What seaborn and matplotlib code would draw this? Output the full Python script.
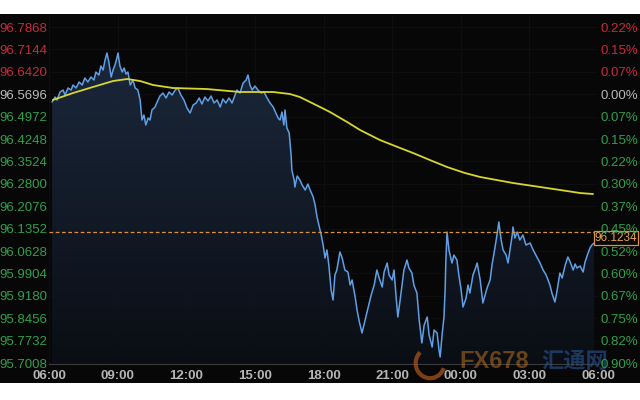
import numpy as np
import pandas as pd
import seaborn as sns
import matplotlib.pyplot as plt
from matplotlib.patches import Rectangle, Arc
from matplotlib.transforms import blended_transform_factory

# price path: minutes after 06:00 and price
blue_min = [8, 16, 21, 29, 37, 42, 50, 58, 63, 71, 79, 87, 94, 102, 110, 118, 123, 131, 136, 142,
            147, 152, 157, 163, 168, 173, 178, 181, 186, 192, 197, 202, 207, 213, 220, 226, 233, 239, 244, 249,
            254, 260, 265, 270, 278, 286, 291, 299, 307, 315, 323, 331, 338, 346, 354, 362, 370, 378, 386, 394,
            401, 409, 417, 425, 433, 441, 449, 456, 464, 472, 480, 488, 493, 501, 509, 517, 522, 527, 533, 540,
            548, 556, 564, 572, 580, 588, 595, 601, 606, 611, 616, 619, 624, 630, 635, 637, 643, 645, 651, 658,
            664, 672, 679, 685, 693, 698, 703, 708, 714, 719, 724, 729, 734, 740, 745, 750, 755, 763, 769, 776,
            784, 790, 795, 803, 808, 813, 821, 826, 832, 837, 845, 853, 860, 866, 874, 879, 887, 892, 900, 905,
            910, 915, 921, 926, 931, 939, 944, 952, 957, 965, 971, 978, 984, 992, 997, 1005, 1010, 1018, 1023, 1026,
            1031, 1036, 1039, 1041, 1044, 1049, 1057, 1062, 1070, 1075, 1081, 1086, 1094, 1099, 1104, 1112, 1117, 1123, 1131, 1138,
            1144, 1149, 1157, 1162, 1170, 1175, 1180, 1186, 1191, 1199, 1204, 1209, 1215, 1217, 1222, 1228, 1235, 1243, 1251, 1262,
            1270, 1277, 1288, 1296, 1304, 1309, 1314, 1319, 1327, 1333, 1340, 1346, 1354, 1361, 1367, 1375, 1380, 1385, 1393, 1401,
            1406, 1414, 1419, 1424, 1430]
blue_px = [96.5444, 96.5606, 96.5509, 96.5768, 96.5832, 96.5671, 96.5897, 96.5832, 96.5994, 96.5897,
           96.6091, 96.5994, 96.6220, 96.6091, 96.6252, 96.6155, 96.6414, 96.6317, 96.6608, 96.6479,
           96.6802, 96.7028, 96.6737, 96.6252, 96.6479, 96.6640, 96.6866, 96.7028, 96.6608, 96.6414,
           96.6543, 96.6349, 96.6414, 96.5994, 96.6155, 96.5897, 96.5832, 96.5509, 96.4863, 96.5024,
           96.4701, 96.4927, 96.4863, 96.5186, 96.5283, 96.5509, 96.5638, 96.5735, 96.5574, 96.5768,
           96.5671, 96.5832, 96.5897, 96.5671, 96.5509, 96.5250, 96.5089, 96.5347, 96.5412, 96.5574,
           96.5380, 96.5606, 96.5477, 96.5638, 96.5412, 96.5509, 96.5283, 96.5541, 96.5412, 96.5574,
           96.5412, 96.5671, 96.5832, 96.5735, 96.6058, 96.6155, 96.6317, 96.5994, 96.5832, 96.5961,
           96.5832, 96.5735, 96.5768, 96.5574, 96.5412, 96.5283, 96.5089, 96.4927, 96.4863, 96.5121,
           96.4701, 96.5186, 96.4605, 96.4443, 96.3731, 96.3247, 96.2923, 96.2697, 96.3053, 96.2923,
           96.2762, 96.2600, 96.2794, 96.2600, 96.2374, 96.2115, 96.1728, 96.1470, 96.1146, 96.0823,
           96.0402, 96.0661, 96.0176, 95.9368, 95.9045, 95.9853, 96.0015, 96.0596, 96.0402, 96.0015,
           95.9950, 95.9530, 95.9692, 95.9142, 95.8722, 95.8399, 95.7979, 95.8237, 95.8560, 95.8819,
           95.9207, 95.9530, 96.0015, 95.9756, 95.9465, 95.9950, 96.0241, 95.9853, 95.9692, 96.0015,
           95.9207, 95.8496, 95.9045, 95.9530, 96.0015, 96.0338, 96.0079, 95.9918, 95.9530, 95.9271,
           95.8399, 95.7656, 95.8237, 95.8496, 95.7914, 95.7526, 95.8076, 95.7979, 95.7429, 95.7203,
           95.7914, 95.8496, 95.9368, 96.0338, 96.1243, 96.0661, 96.0241, 96.0499, 96.0338, 95.9853,
           95.9368, 95.8819, 95.9110, 95.9530, 95.9271, 95.9853, 96.0015, 96.0241, 95.9692, 95.8948,
           95.9207, 95.9433, 95.9692, 96.0176, 96.0758, 96.1146, 96.1567, 96.0984, 96.0661, 96.0499,
           96.0241, 96.0661, 96.1146, 96.1406, 96.1049, 96.1243, 96.0984, 96.1146, 96.0823, 96.0887,
           96.0661, 96.0499, 96.0241, 96.0015, 95.9853, 95.9692, 95.9530, 95.9271, 95.8981, 95.9368,
           95.9918, 95.9756, 96.0176, 96.0435, 96.0273, 96.0015, 96.0209, 96.0079, 96.0144, 95.9950,
           96.0273, 96.0564, 96.0726, 96.0823, 96.0887]

# moving average
ma_min = [10, 63, 115, 168, 205, 239, 273, 325, 414, 501, 588, 632, 658, 711, 737, 782, 816, 868,
          921, 955, 999, 1044, 1091, 1131, 1217, 1306, 1393, 1427]
ma_px = [96.5509, 96.5735, 96.5929, 96.6123, 96.6188, 96.6123, 96.5994, 96.5897, 96.5864, 96.5768,
         96.5768, 96.5703, 96.5606, 96.5283, 96.5121, 96.4798, 96.4539, 96.4216, 96.3958, 96.3796,
         96.3570, 96.3344, 96.3150, 96.3021, 96.2827, 96.2665, 96.2503, 96.2471]

y_ticks = [96.7868, 96.7144, 96.6420, 96.5696, 96.4972, 96.4248, 96.3524, 96.2800,
           96.2076, 96.1352, 96.0628, 95.9904, 95.9180, 95.8456, 95.7732, 95.7008]
y_labels = ["96.7868", "96.7144", "96.6420", "96.5696", "96.4972", "96.4248", "96.3524", "96.2800",
            "96.2076", "96.1352", "96.0628", "95.9904", "95.9180", "95.8456", "95.7732", "95.7008"]
pct_labels = ["0.22%", "0.15%", "0.07%", "0.00%", "0.07%", "0.15%", "0.22%", "0.30%",
              "0.37%", "0.45%", "0.52%", "0.60%", "0.67%", "0.75%", "0.82%", "0.90%"]
x_ticks = [0, 180, 360, 540, 720, 900, 1080, 1260, 1440]
x_labels = ["06:00", "09:00", "12:00", "15:00", "18:00", "21:00", "00:00", "03:00", "06:00"]
ref_price = 96.5696
last_price = 96.1234

sns.set_theme(style="dark")
plt.rcParams['font.family'] = ['Liberation Sans', 'Noto Sans CJK SC', 'DejaVu Sans']

bg = "#070707"
fig = plt.figure(figsize=(6.4, 4.0), dpi=100, facecolor="white")
fig.patches.append(Rectangle((0, 0.0425), 1, 0.9225, transform=fig.transFigure,
                             facecolor=bg, edgecolor="none", zorder=-5))
ax = fig.add_axes([49 / 640, 36 / 400, 549 / 640, 350 / 400])
ax.set_facecolor("none")
ylim = (95.6977, 96.8289)

price = pd.DataFrame({"t": blue_min, "p": blue_px})
ma = pd.DataFrame({"t": ma_min, "p": ma_px})

# faint grid under everything
ax.vlines(x_ticks, ylim[0], ylim[1], color="#101010", linewidth=0.6, zorder=0.2)
ax.hlines(y_ticks, 0, 1440, color="#101010", linewidth=0.6, zorder=0.2)

# gradient area under the price line
poly = ax.fill_between(price["t"], price["p"], ylim[0], facecolor="none", edgecolor="none")
grad = np.linspace(1, 0, 256).reshape(-1, 1)
cmap = sns.blend_palette(["#0b0f16", "#1f2e45"], as_cmap=True)
img = ax.imshow(grad, cmap=cmap, aspect="auto", extent=[0, 1440, ylim[0], ylim[1]],
                origin="upper", zorder=1, alpha=0.92)
img.set_clip_path(poly.get_paths()[0], transform=ax.transData)

sns.lineplot(data=price, x="t", y="p", ax=ax, color="#5f9fe6", linewidth=1.1, zorder=3)
sns.lineplot(data=ma, x="t", y="p", ax=ax, color="#d6d62c", linewidth=1.3, zorder=4)
ax.axhline(last_price, color="#d9923e", linewidth=0.9, linestyle=(0, (3, 2)), zorder=5)

ax.set_xlim(0, 1440)
ax.set_ylim(*ylim)
ax.set_xlabel("")
ax.set_ylabel("")
ax.set_xticks(x_ticks)
ax.set_xticklabels(x_labels, color="#b5b5b5", fontsize=9.5, fontweight="bold")
ax.set_yticks(y_ticks)
ax.set_yticklabels(y_labels, fontsize=9.5)
ax.tick_params(axis="y", length=0, pad=1)
ax.tick_params(axis="x", length=0, pad=4)
ax.grid(False)
ax.xaxis.set_zorder(7)
for s in ["top", "left", "right"]:
    ax.spines[s].set_visible(False)
ax.spines["bottom"].set_color("#3a3a3a")
ax.spines["bottom"].set_linewidth(0.8)


def lab_color(v):
    if abs(v - ref_price) < 1e-6:
        return "#b8b8b8"
    return "#c8283c" if v > ref_price else "#2fa04c"


for tl, v in zip(ax.get_yticklabels(), y_ticks):
    tl.set_color(lab_color(v))

ax2 = ax.twinx()
ax2.set_facecolor("none")
ax2.set_ylim(*ylim)
ax2.set_yticks(y_ticks)
ax2.set_yticklabels(pct_labels, fontsize=9.5)
ax2.tick_params(axis="y", length=0, pad=2)
ax2.grid(False)
for s in ax2.spines.values():
    s.set_visible(False)
for tl, v in zip(ax2.get_yticklabels(), y_ticks):
    tl.set_color(lab_color(v))

# last price box
tr = blended_transform_factory(ax.transAxes, ax.transData)
ax.text(0.994, last_price, "96.1234", transform=tr, ha="left", va="top", fontsize=8.5,
        color="#e8a448", zorder=10, clip_on=False,
        bbox=dict(boxstyle="square,pad=0.08", facecolor=bg, edgecolor="#d9923e", linewidth=0.9))

# watermark: over the chart, under the time labels
ax.text(0.717, 0.095, "FX678", color="#a8661c", alpha=0.6, fontsize=17, fontweight="bold",
        ha="left", va="center", zorder=6, transform=fig.transFigure, clip_on=False)
ax.text(0.846, 0.095, "汇通网", color="#2a5494", alpha=0.6, fontsize=16, fontweight="bold",
        ha="left", va="center", zorder=6, transform=fig.transFigure, clip_on=False)
ax.add_patch(Arc((0.672, 0.092), 0.045, 0.075, theta1=120, theta2=330,
                 transform=fig.transFigure, color="#b0581c", alpha=0.7, linewidth=3,
                 zorder=6, clip_on=False))

fig.savefig("out.png", dpi=100, facecolor="white")
